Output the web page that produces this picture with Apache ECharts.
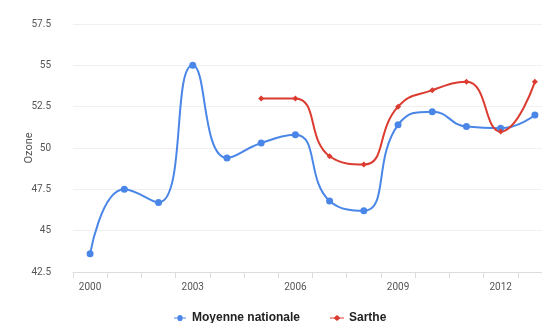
<!DOCTYPE html>
<html><head><meta charset="utf-8">
<script src="https://cdn.jsdelivr.net/npm/echarts@6/dist/echarts.min.js"></script>
<style>html,body{margin:0;padding:0;background:#fff}#c{width:542px;height:323px}</style>
</head><body><div id="c"></div>
<script>
var years = ['2000','2001','2002','2003','2004','2005','2006','2007','2008','2009','2010','2011','2012','2013'];
var moyenne = [43.6, 47.5, 46.7, 55.0, 49.4, 50.3, 50.8, 46.8, 46.2, 51.4, 52.2, 51.3, 51.2, 52.0];
var sarthe = [null, null, null, null, null, 53.0, 53.0, 49.5, 49.0, 52.5, 53.5, 54.0, 51.0, 54.0];
var chart = echarts.init(document.getElementById('c'));
chart.setOption({
  animation: false,
  grid: {left: 73, width: 479, top: 24, height: 248, containLabel: false, outerBoundsMode: 'none'},
  legend: {
    top: 307, left: 169, itemGap: 30, itemWidth: 14, itemHeight: 6,
    textStyle: {fontWeight: 'bold', color: '#222', fontSize: 12, fontFamily: 'Liberation Sans'},
    data: [{name: 'Moyenne nationale', icon: 'path://M0,2.5L4,2.5A3,3 0 1 1 10,2.5L14,2.5L14,3.5L10,3.5A3,3 0 1 1 4,3.5L0,3.5Z'},
           {name: 'Sarthe', icon: 'path://M0,2.5L4,2.5L7,0L10,2.5L14,2.5L14,3.5L10,3.5L7,6L4,3.5L0,3.5Z'}]
  },
  xAxis: {
    type: 'category', data: years, boundaryGap: true,
    axisLine: {lineStyle: {color: '#ddd'}},
    axisTick: {show: true, interval: 0, length: 6, lineStyle: {color: '#ddd'}},
    axisLabel: {interval: 2, color: '#555', fontSize: 10, margin: 10, fontFamily: 'Roboto'},
    splitLine: {show: false}
  },
  yAxis: {
    type: 'value', min: 42.5, max: 57.5, interval: 2.5,
    name: 'Ozone', nameLocation: 'middle', nameGap: 38, nameRotate: 90, nameMoveOverlap: false,
    nameTextStyle: {color: '#555', fontSize: 11, fontFamily: 'Roboto'},
    axisLine: {show: false}, axisTick: {show: false},
    axisLabel: {color: '#555', fontSize: 10, fontFamily: 'Roboto', margin: 22},
    splitLine: {lineStyle: {color: '#f0f0f0'}}
  },
  series: [
    {name: 'Moyenne nationale', type: 'line', data: moyenne, smooth: 0.5,
     symbol: 'circle', symbolSize: 7, color: '#4a86e8', lineStyle: {width: 2}},
    {name: 'Sarthe', type: 'line', data: sarthe, smooth: 0.5,
     symbol: 'diamond', symbolSize: 6, color: '#dc3b30', lineStyle: {width: 2}}
  ]
});
</script></body></html>
